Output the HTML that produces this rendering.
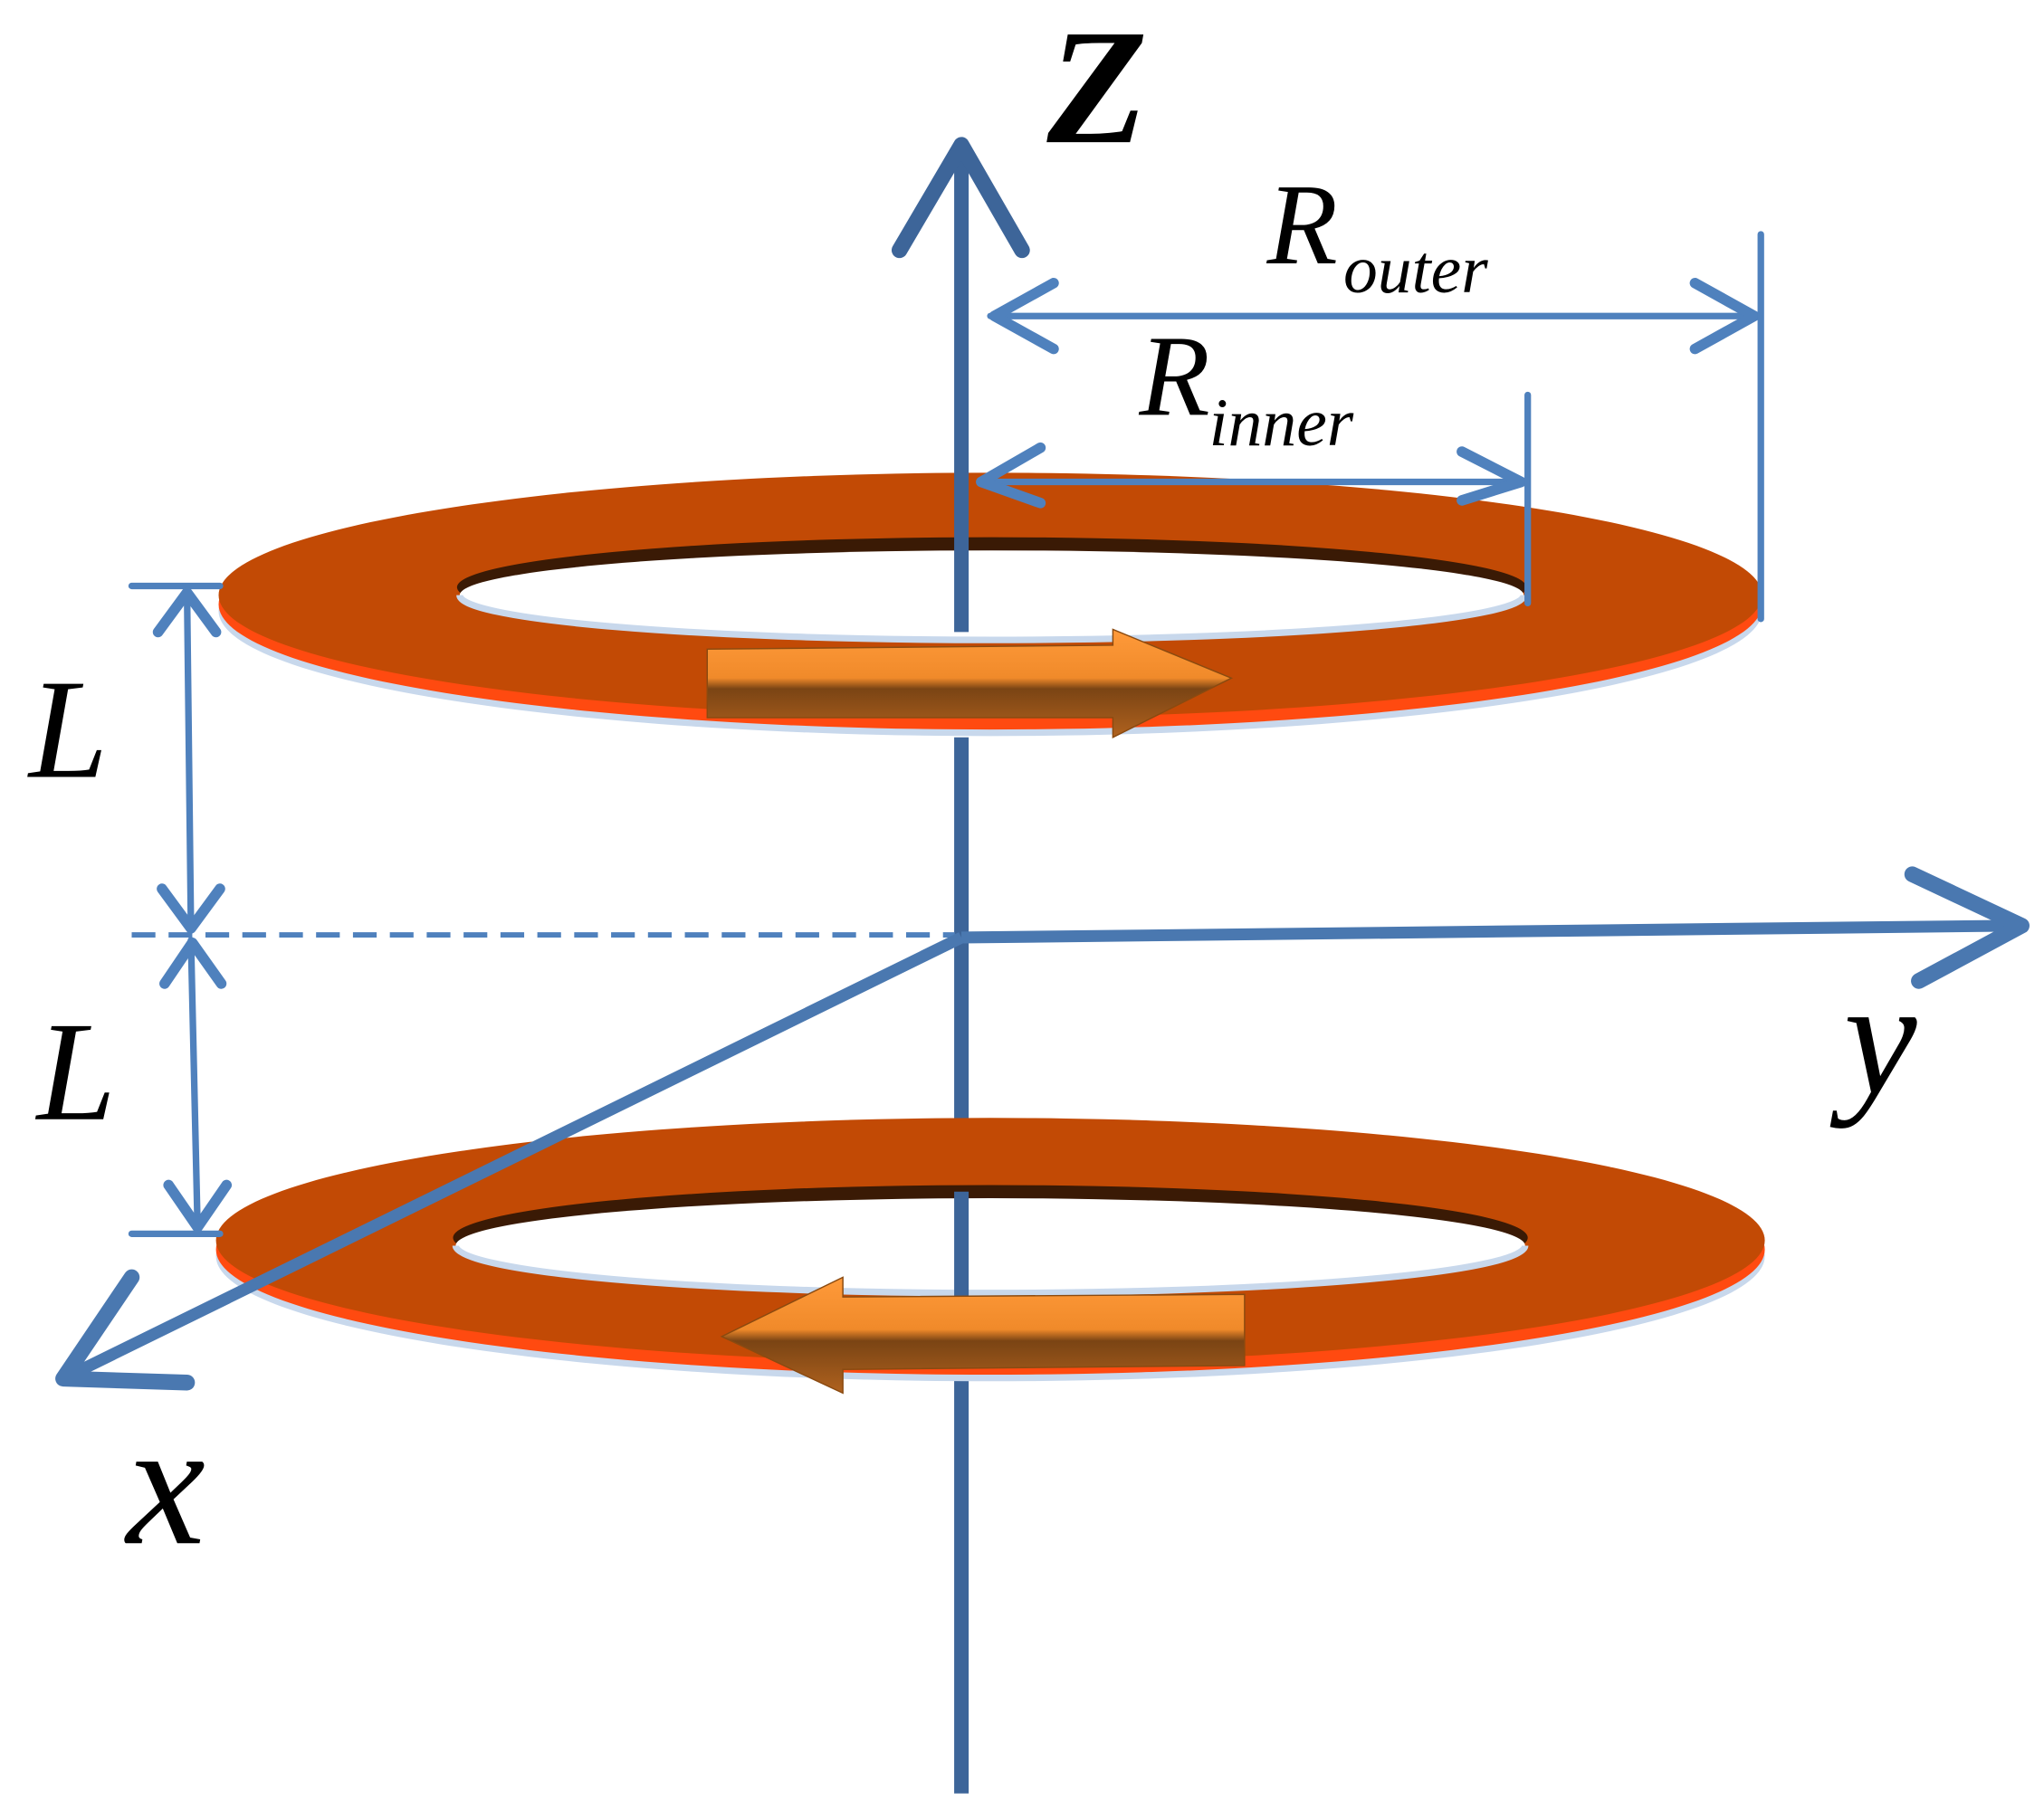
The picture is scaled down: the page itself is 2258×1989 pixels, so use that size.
<!DOCTYPE html>
<html><head><meta charset="utf-8"><style>
html,body{margin:0;padding:0;background:#fff;}
svg{display:block;}
text{font-family:"Liberation Serif",serif;font-style:italic;fill:#000;}
</style></head><body>
<svg width="2258" height="1989" viewBox="0 0 1552 1367" preserveAspectRatio="none" xmlns="http://www.w3.org/2000/svg">
<defs>
<linearGradient id="arr" x1="0" y1="0" x2="0" y2="1">
<stop offset="0" stop-color="#ff9a3a"/><stop offset="0.45" stop-color="#f08a2a"/><stop offset="0.55" stop-color="#7a4414"/><stop offset="1" stop-color="#b0621e"/>
</linearGradient>
</defs>
<line x1="730" y1="560" x2="730" y2="1362" stroke="#3d6599" stroke-width="11"/>
<!-- top ring -->
<ellipse cx="752" cy="464" rx="586" ry="95" fill="#c8d8ec"/>
<ellipse cx="752" cy="459" rx="586" ry="95" fill="#ff4a10"/>
<ellipse cx="752" cy="452" rx="586" ry="93" fill="#c24a05"/>
<ellipse cx="753" cy="446" rx="406" ry="38" fill="#3a1a05"/>
<ellipse cx="753" cy="452" rx="404" ry="34" fill="#fff"/>
<path d="M349,452 A404,34 0 0 0 1157,452" fill="none" stroke="#c8d8ec" stroke-width="5"/>
<line x1="730" y1="110" x2="730" y2="480" stroke="#3d6599" stroke-width="11"/>
<path d="M537,493 L845,490 L845,478 L935,515 L845,560 L845,545 L537,545 Z" fill="url(#arr)" stroke="#8a4a10" stroke-width="1"/>
<!-- bottom ring -->
<ellipse cx="752" cy="954" rx="588" ry="95" fill="#c8d8ec"/>
<ellipse cx="752" cy="949" rx="588" ry="95" fill="#ff4a10"/>
<ellipse cx="752" cy="942" rx="588" ry="93" fill="#c24a05"/>
<ellipse cx="752" cy="940" rx="408" ry="40" fill="#3a1a05"/>
<ellipse cx="752" cy="946" rx="406" ry="36" fill="#fff"/>
<path d="M346,946 A406,36 0 0 0 1158,946" fill="none" stroke="#c8d8ec" stroke-width="5"/>
<line x1="730" y1="905" x2="730" y2="985" stroke="#3d6599" stroke-width="11"/>
<path d="M945,983 L640,985 L640,970 L548,1015 L640,1058 L640,1040 L945,1037 Z" fill="url(#arr)" stroke="#8a4a10" stroke-width="1"/>
<polyline points="683,190 730,110 776,190" fill="none" stroke="#3d6599" stroke-width="12" stroke-linecap="round" stroke-linejoin="round"/>
<line x1="730" y1="712" x2="1530" y2="703" stroke="#4a78b0" stroke-width="9"/>
<polyline points="1452,664 1535,703 1457,745" fill="none" stroke="#4a78b0" stroke-width="12" stroke-linecap="round" stroke-linejoin="round"/>
<line x1="100" y1="710" x2="725" y2="710" stroke="#4f81bd" stroke-width="4" stroke-dasharray="18,10"/>
<line x1="730" y1="712" x2="52" y2="1045" stroke="#4a78b0" stroke-width="9"/>
<polyline points="100,970 48,1047 142,1050" fill="none" stroke="#4a78b0" stroke-width="12" stroke-linecap="round" stroke-linejoin="round"/>
<g stroke="#4f81bd" stroke-width="5" fill="none" stroke-linecap="round" stroke-linejoin="round">
<line x1="100" y1="445" x2="167" y2="445"/>
<line x1="100" y1="937" x2="167" y2="937"/>
<line x1="142" y1="448" x2="145" y2="706"/>
<polyline points="120,480 142,450 164,480" stroke-width="8"/>
<polyline points="123,675 145,705 167,675" stroke-width="8"/>
<line x1="145" y1="714" x2="150" y2="932"/>
<polyline points="125,747 146,716 168,747" stroke-width="8"/>
<polyline points="128,900 150,932 172,900" stroke-width="8"/>
<line x1="752" y1="240" x2="1332" y2="240"/>
<polyline points="800,215 755,240 800,265" stroke-width="8"/>
<polyline points="1287,215 1332,240 1287,265" stroke-width="8"/>
<line x1="1337" y1="178" x2="1337" y2="470"/>
<line x1="745" y1="366" x2="1155" y2="366"/>
<polyline points="790,340 745,366 790,382" stroke-width="8"/>
<polyline points="1110,343 1155,366 1110,380" stroke-width="8"/>
<line x1="1160" y1="300" x2="1160" y2="458"/>
</g>
<text x="795" y="108" font-size="125" font-weight="bold">Z</text>
<text x="962" y="200" font-size="88">R</text>
<text x="1020" y="222" font-size="52">outer</text>
<text x="865" y="315" font-size="88">R</text>
<text x="918" y="338" font-size="52">inner</text>
<text x="22" y="590" font-size="108">L</text>
<text x="28" y="850" font-size="108">L</text>
<text x="1400" y="830" font-size="125">y</text>
<text x="96" y="1172" font-size="135">x</text>
</svg>
</body></html>
